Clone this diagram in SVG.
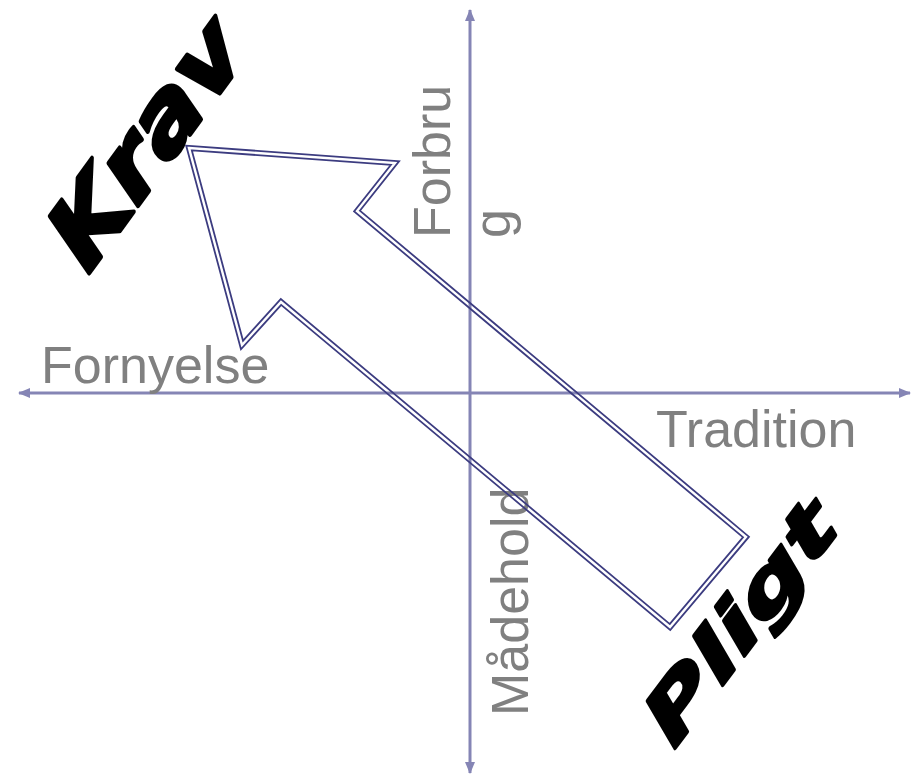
<svg xmlns="http://www.w3.org/2000/svg" xmlns:xlink="http://www.w3.org/1999/xlink" width="919" height="775" viewBox="0 0 919 775">
  <style>
    .axis { stroke: #8585b5; stroke-width: 3; fill: none; }
    .label { font-family: "Liberation Sans", Arial, sans-serif; font-size: 52px; fill: #808080; }
    .word { font-family: "DejaVu Sans", sans-serif; font-weight: bold; font-style: oblique; fill: #000; stroke: #000; stroke-linejoin: round; }
    .outline { fill: none; stroke: #3c3c80; stroke-width: 6; stroke-linejoin: miter; }
  </style>
  <defs>
    <marker id="axisHead" viewBox="0 0 12 10" refX="11" refY="5" markerWidth="12" markerHeight="10" markerUnits="userSpaceOnUse" orient="auto">
      <path d="M0,0 L12,5 L0,10 Z" fill="#8585b5"/>
    </marker>
    <path id="bigArrow" d="M189,148 L395,163 L357,211 L746,537 L670,627 L281,302 L242,345 Z"/>
    <mask id="doubleLine" maskUnits="userSpaceOnUse" x="0" y="0" width="919" height="775">
      <rect x="0" y="0" width="919" height="775" fill="#fff"/>
      <use xlink:href="#bigArrow" fill="none" stroke="#000" stroke-width="2.4" stroke-linejoin="miter"/>
    </mask>
  </defs>

  <!-- axes -->
  <g id="connectors">
    <line class="axis" x1="470" y1="395" x2="470" y2="10" marker-end="url(#axisHead)"/>
    <line class="axis" x1="470" y1="395" x2="470" y2="773" marker-end="url(#axisHead)"/>
    <line class="axis" x1="470" y1="393" x2="19" y2="393" marker-end="url(#axisHead)"/>
    <line class="axis" x1="470" y1="393" x2="910" y2="393" marker-end="url(#axisHead)"/>
  </g>

  <!-- axis labels -->
  <g id="label-fornyelse"><text class="label" x="41" y="383">Fornyelse</text></g>
  <g id="label-tradition"><text class="label" x="656" y="447">Tradition</text></g>
  <g id="label-forbrug">
    <text class="label" transform="translate(450,238) rotate(-90)">Forbru</text>
    <text class="label" transform="translate(510,238) rotate(-90)">g</text>
  </g>
  <g id="label-maadehold"><text class="label" transform="translate(528,716) rotate(-90)">Mådehold</text></g>

  <!-- block arrow from Pligt to Krav -->
  <g id="arrow">
    <use xlink:href="#bigArrow" class="outline" mask="url(#doubleLine)"/>
  </g>

  <!-- slanted words -->
  <g id="word-krav"><text class="word" font-size="90" stroke-width="4" transform="translate(88,275) rotate(-54) skewX(-7) scale(1.18,1)">Krav</text></g>
  <g id="word-pligt"><text class="word" font-size="70" stroke-width="3" transform="translate(674,750) rotate(-53) skewX(-7) scale(1.52,1)">Pligt</text></g>
</svg>
